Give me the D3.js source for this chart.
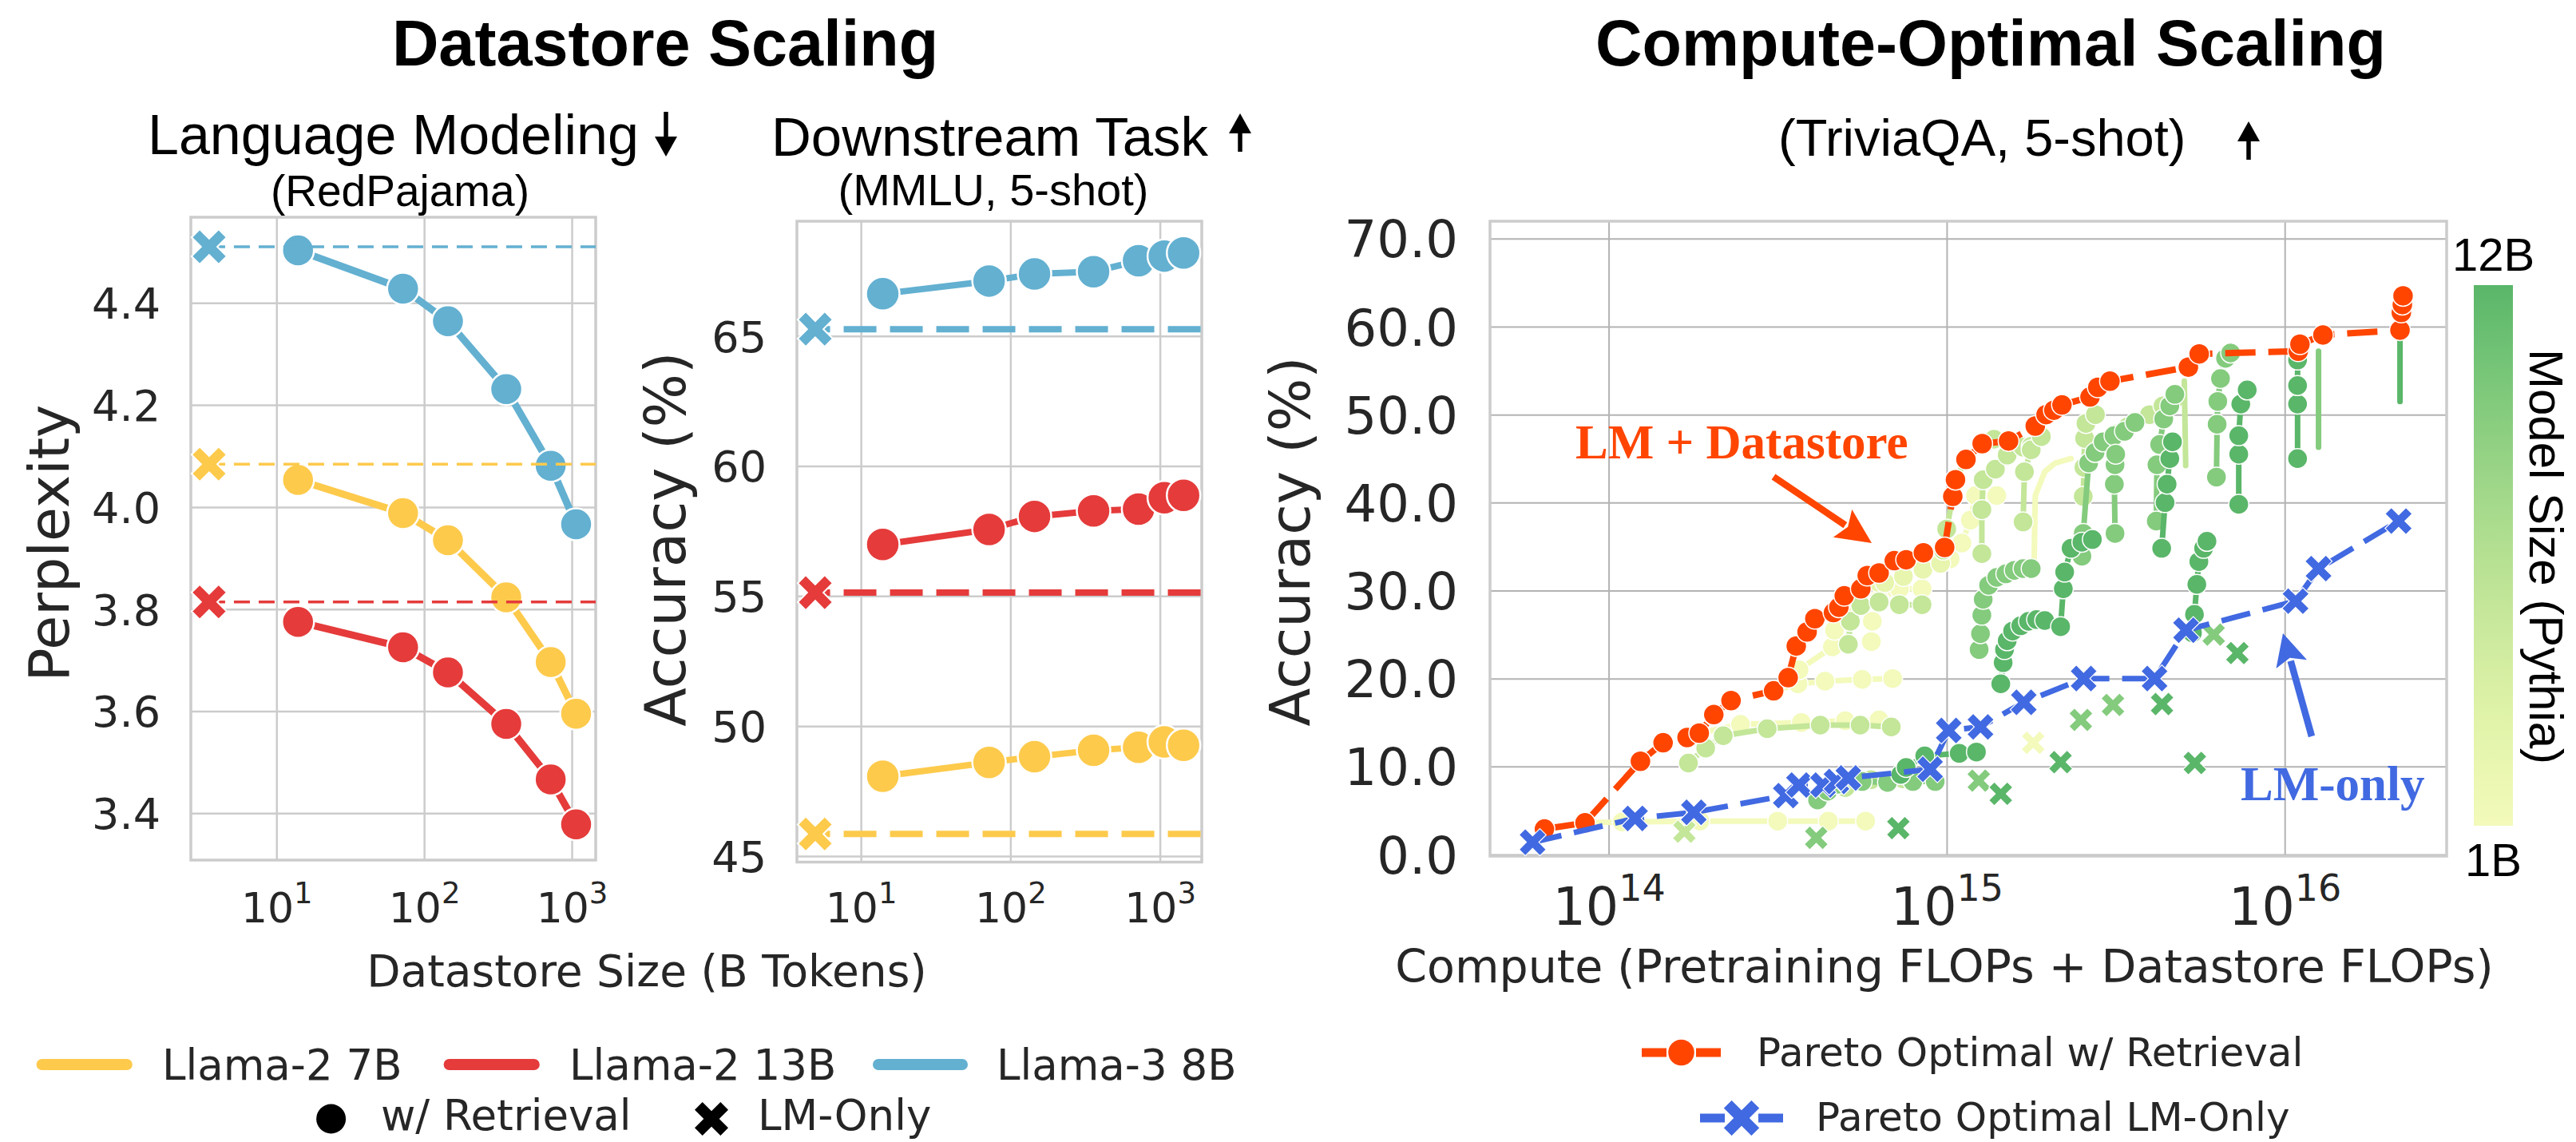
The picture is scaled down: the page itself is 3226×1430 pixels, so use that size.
<!DOCTYPE html>
<html>
<head>
<meta charset="utf-8">
<title>Datastore and compute-optimal scaling</title>
<script src="https://cdn.jsdelivr.net/npm/d3@7/dist/d3.min.js"></script>
<style>
  html, body { margin: 0; padding: 0; background: #ffffff; }
  svg { display: block; }
</style>
</head>
<body>
<svg id="fig" width="3226" height="1430" xmlns="http://www.w3.org/2000/svg"></svg>
<script>
// ---------------- data ----------------
// Language modeling (RedPajama perplexity) vs datastore size, billions of tokens
const lmDatastoreTokens = [14, 72, 145, 360, 720, 1070];
const pplLlama2_7B  = [4.053, 3.988, 3.935, 3.823, 3.696, 3.595];
const pplLlama2_13B = [3.775, 3.725, 3.676, 3.575, 3.466, 3.378];
const pplLlama3_8B  = [4.503, 4.428, 4.364, 4.231, 4.081, 3.966];
const pplLMOnly     = [4.084, 3.814, 4.510];   // 7B, 13B, Llama-3 8B without retrieval
const lmOnlyTokensLM = 3.5;                    // where the LM-only markers sit on the x axis

// Downstream (MMLU 5-shot accuracy, %) vs datastore size
const mmluDatastoreTokens = [14, 72, 145, 360, 720, 1070, 1440];
const mmluLlama2_7B  = [48.07, 48.60, 48.82, 49.07, 49.18, 49.39, 49.26];
const mmluLlama2_13B = [56.98, 57.56, 58.06, 58.27, 58.34, 58.78, 58.87];
const mmluLlama3_8B  = [66.62, 67.11, 67.38, 67.47, 67.89, 68.07, 68.19];
const mmluLMOnly     = [45.85, 55.13, 65.26];
const lmOnlyTokensMMLU = 4.95;

const modelNames  = ["Llama-2 7B", "Llama-2 13B", "Llama-3 8B"];
const modelColors = ["#fdca4c", "#e53b3b", "#63b0d1"];

const pplTicks   = [3.4, 3.6, 3.8, 4.0, 4.2, 4.4];
const mmluTicks  = [45, 50, 55, 60, 65];
const tokenTicks = [10, 100, 1000];
const accTicks   = [0, 10, 20, 30, 40, 50, 60, 70];
const flopTicks  = [1e14, 1e15, 1e16];

// Compute-optimal scaling (TriviaQA 5-shot): points are [log10 FLOPs, accuracy %]
// Pythia runs with retrieval: [model size (B), points ordered by datastore size]
const retrievalRuns = [
  [1,   [[13.81,2.9],[13.93,3.6],[14.04,3.7],[14.27,3.8],[14.50,3.8],[14.65,3.8],[14.76,3.8]]],
  [1,   [[14.23,13.3],[14.27,13.8],[14.39,14.8],[14.57,15.0],[14.70,15.2],[14.80,15.3]]],
  [1,   [[14.49,18.6],[14.56,19.4],[14.64,19.7],[14.75,19.9],[14.84,20.0]]],
  [1,   [[14.563,21.0],[14.662,23.6],[14.668,25.5],[14.69,27.8],[14.73,29.4]]],
  [1,   [[14.777,24.2],[14.78,26.5],[14.80,29.0],[14.86,30.2],[14.927,30.2]]],
  [1.4, [[14.80,30.9],[14.817,30.9],[14.872,31.6],[14.93,32.4],[14.982,33.1]]],
  [1,   [[14.982,33.1],[15.01,33.6],[15.045,35.4],[15.07,38.0],[15.085,40.8],[15.148,40.8]]],
  [2.8, [[14.236,10.4],[14.287,12.1],[14.339,13.5],[14.469,14.3],[14.626,14.7],[14.744,14.7],[14.836,14.5]]],
  [2.8, [[14.709,23.9],[14.715,26.5],[14.746,28.3],[14.80,28.7],[14.86,28.4],[14.927,28.4]]],
  [2.8, [[14.70,7.6],[14.776,8.5],[14.829,8.3],[14.87,8.6]]],
  [2.8, [[14.99,34.6],[15.0,37.0],[15.018,40.7],[15.026,42.6],[15.057,44.9],[15.105,46.7],[15.14,47.2],[15.183,47.0]]],
  [2.8, [[15.104,34.2],[15.104,39.2],[15.108,42.6],[15.144,43.8],[15.179,45.4],[15.226,46.3],[15.25,46.4]]],
  [2.8, [[15.226,37.8],[15.23,43.5],[15.25,46.0],[15.28,47.5]]],
  [2.8, [[15.404,40.7],[15.406,44.0],[15.408,47.3],[15.412,49.0],[15.44,50.0]]],
  [2.8, [[15.46,46.5],[15.50,47.8],[15.535,48.6],[15.561,49.2],[15.60,50.0],[15.64,51.0],[15.672,51.7]]],
  [6.9, [[14.618,6.2],[14.648,7.2],[14.678,8.0],[14.75,8.3],[14.825,8.2],[14.90,8.3],[14.966,8.3]]],
  [6.9, [[15.096,23.3],[15.10,25.1],[15.104,27.2],[15.108,29.0],[15.124,30.6],[15.148,31.5],[15.175,31.9],[15.20,32.3],[15.226,32.5],[15.25,32.5]]],
  [6.9, [[15.40,33.9],[15.404,36.5],[15.42,44.5],[15.439,45.7],[15.463,46.9],[15.495,47.6],[15.526,48.1],[15.557,49.1]]],
  [6.9, [[15.498,36.5],[15.496,42.1],[15.498,44.3],[15.50,45.5]]],
  [6.9, [[15.62,37.9],[15.622,44.3],[15.63,46.6],[15.642,49.5],[15.66,51.0],[15.675,52.3]]],
  [6.9, [[15.798,42.9],[15.80,48.9],[15.802,51.5],[15.81,54.1],[15.825,56.4],[15.84,57.0]]],
  [12,  [[14.864,9.1],[14.88,9.9],[14.935,11.2],[15.037,11.5],[15.088,11.65]]],
  [12,  [[15.16,19.4],[15.167,21.8],[15.171,23.3],[15.179,24.3],[15.195,25.4],[15.219,26.0],[15.242,26.5],[15.266,26.7],[15.29,26.6],[15.337,25.9],[15.345,30.2],[15.349,32.1],[15.368,34.8],[15.40,35.5],[15.431,35.8]]],
  [12,  [[15.636,34.8],[15.646,40.0],[15.652,42.1],[15.66,45.0],[15.668,46.9]]],
  [12,  [[15.727,25.2],[15.733,27.3],[15.74,30.7],[15.746,33.3],[15.76,34.8],[15.77,35.6]]],
  [12,  [[15.864,39.8],[15.864,45.5],[15.864,47.6],[15.87,51.2],[15.889,52.8]]],
  [12,  [[16.038,45.0],[16.038,51.2],[16.038,53.3],[16.038,56.2],[16.045,58.0]]]
];
// runs whose markers are hidden under other points: only their connecting line shows
const retrievalTraces = [
  [1,   [[15.258,31.8],[15.262,40.8],[15.29,43.5],[15.321,44.5],[15.368,45.0]]],
  [2.8, [[15.707,44.2],[15.703,53.8]]],
  [6.9, [[16.10,46.3],[16.10,57.2]]],
  [12,  [[16.341,51.5],[16.341,59.6]]]
];
// LM-only checkpoints: [model size (B), log10 FLOPs, accuracy %]
const lmOnlyRuns = [
  [2.8,14.224,2.6],[6.9,14.614,1.9],[12,14.857,3.0],[6.9,15.095,8.4],[12,15.16,6.9],
  [1,15.256,12.7],[12,15.337,10.5],[6.9,15.397,15.3],[6.9,15.492,17.0],[12,15.637,17.1],
  [12,15.734,10.4],[6.9,15.79,25.0],[12,15.86,22.9]
];
const paretoRetrieval = [
  [13.81,2.9],[13.93,3.6],[14.094,10.6],[14.161,12.7],[14.232,13.3],[14.268,13.8],[14.311,15.9],
  [14.362,17.5],[14.488,18.6],[14.531,20.1],[14.555,23.7],[14.587,25.3],[14.61,26.8],[14.665,27.5],
  [14.681,28.1],[14.697,29.4],[14.746,30.2],[14.765,31.7],[14.80,32.0],[14.845,33.4],[14.88,33.5],
  [14.931,34.3],[14.994,34.9],[15.018,40.7],[15.026,42.6],[15.057,44.9],[15.105,46.7],[15.183,47.0],
  [15.262,48.7],[15.294,50.0],[15.317,50.5],[15.341,51.1],[15.424,52.0],[15.447,53.1],[15.483,53.8],
  [15.715,55.4],[15.747,56.9],[16.04,57.2],[16.045,58.0],[16.113,59.05],[16.341,59.6],[16.345,61.6],
  [16.348,62.5],[16.35,63.5]
];
const paretoLMOnly = [
  [13.775,1.4],[14.078,4.1],[14.252,4.8],[14.524,6.7],[14.563,7.9],[14.634,7.9],[14.674,8.3],
  [14.709,8.7],[14.951,9.7],[15.006,14.1],[15.10,14.5],[15.228,17.3],[15.405,20.0],[15.615,20.0],
  [15.708,25.5],[16.032,28.8],[16.10,32.5],[16.337,37.9]
];
const colorbarLabels = ["12B", "1B"];

// ---------------- setup ----------------
const svg = d3.select("#fig");
const SANS = "'Liberation Sans', Arial, Helvetica, sans-serif";
const DEJAVU = "'DejaVu Sans', sans-serif";
const SERIF = "'Liberation Serif', 'Times New Roman', serif";
const INK = "#262626";
const ORANGE = "#ff4500";
const BLUE = "#4169e1";

const boxL = {x0: 239, x1: 746, y0: 272, y1: 1077};
const boxM = {x0: 998, x1: 1505, y0: 277, y1: 1079.5};
const boxR = {x0: 1866, x1: 3064, y0: 277, y1: 1072};

const xL = d3.scaleLog().domain([10 ** 0.42, 10 ** 3.162]).range([boxL.x0, boxL.x1]);
const yL = d3.scaleLinear().domain([3.308, 4.568]).range([boxL.y1, boxL.y0]);
const xM = d3.scaleLog().domain([10 ** 0.572, 10 ** 3.28]).range([boxM.x0, boxM.x1]);
const yM = d3.scaleLinear().domain([44.77, 69.41]).range([boxM.y1, boxM.y0]);
const xR = d3.scaleLog().domain([10 ** 13.649, 10 ** 16.479]).range([boxR.x0, boxR.x1]);
const yR = d3.scaleLinear().domain([-0.18, 71.98]).range([boxR.y1, boxR.y0]);

// Pythia model size -> colour (YlGn slice, log-spaced between 1B and 12B)
const sizeColor = s => d3.interpolateYlGn(0.13 + 0.44 * Math.log(s) / Math.log(12));

// filled "X" marker centred on the origin, `size` = bounding width
function xMarkerPath(size) {
  const h = size / 2;
  const s = h * Math.SQRT2 / 1.3, w = 0.3 * s;
  const pts = [[-w,-s],[w,-s],[w,-w],[s,-w],[s,w],[w,w],[w,s],[-w,s],[-w,w],[-s,w],[-s,-w],[-w,-w]]
    .map(([x, y]) => [(x - y) / Math.SQRT2, (x + y) / Math.SQRT2]);
  return "M" + pts.map(p => p[0].toFixed(2) + "," + p[1].toFixed(2)).join("L") + "Z";
}

function drawAxes(box, x, y, o) {
  const g = svg.append("g");
  const ya = g.append("g").attr("transform", `translate(${box.x0},0)`)
    .call(d3.axisLeft(y).tickValues(o.yTicks).tickFormat(o.yFmt)
      .tickSize(-(box.x1 - box.x0)).tickPadding(o.yPad));
  ya.select(".domain").remove();
  ya.selectAll(".tick line").attr("stroke", o.grid).attr("stroke-width", o.gridW);
  ya.selectAll(".tick text").attr("font-family", DEJAVU).attr("font-size", o.yFont)
    .attr("fill", INK).attr("dy", "0.36em");

  const xa = g.append("g").attr("transform", `translate(0,${box.y1})`)
    .call(d3.axisBottom(x).tickValues(o.xTicks).tickFormat(() => "")
      .tickSize(-(box.y1 - box.y0)));
  xa.select(".domain").remove();
  xa.selectAll(".tick line").attr("stroke", o.grid).attr("stroke-width", o.gridW);
  xa.selectAll(".tick text").attr("font-family", DEJAVU).attr("fill", INK)
    .attr("y", o.xBase).attr("dy", 0)
    .each(function (d) {
      const t = d3.select(this);
      t.append("tspan").attr("font-size", o.xFont).text("10");
      t.append("tspan").attr("font-size", o.xSup).attr("dy", -o.xRaise)
        .text(Math.round(Math.log10(d)));
    });

  g.append("rect").attr("x", box.x0).attr("y", box.y0)
    .attr("width", box.x1 - box.x0).attr("height", box.y1 - box.y0)
    .attr("fill", "none").attr("stroke", "#cccccc").attr("stroke-width", 3.5);
  return g;
}

// ---------------- left: language modeling ----------------
drawAxes(boxL, xL, yL, {yTicks: pplTicks, yFmt: d3.format(".1f"), yPad: 38, yFont: 54,
  xTicks: tokenTicks, xBase: 78, xFont: 52, xSup: 37, xRaise: 24, grid: "#cccccc", gridW: 2.5});

const gLeft = svg.append("g");
[pplLlama2_7B, pplLlama2_13B, pplLlama3_8B].forEach((vals, i) => {
  const pts = vals.map((v, j) => [lmDatastoreTokens[j], v]);
  gLeft.append("path").datum(pts)
    .attr("d", d3.line().x(d => xL(d[0])).y(d => yL(d[1])))
    .attr("fill", "none").attr("stroke", modelColors[i]).attr("stroke-width", 9)
    .attr("stroke-linejoin", "round");
  gLeft.selectAll(null).data(pts).join("circle")
    .attr("cx", d => xL(d[0])).attr("cy", d => yL(d[1])).attr("r", 20)
    .attr("fill", modelColors[i]).attr("stroke", "#fff").attr("stroke-width", 2.5);
});
pplLMOnly.forEach((v, i) => {
  gLeft.append("line").attr("x1", xL(lmOnlyTokensLM)).attr("x2", boxL.x1)
    .attr("y1", yL(v)).attr("y2", yL(v))
    .attr("stroke", modelColors[i]).attr("stroke-width", 3.5).attr("stroke-dasharray", "20,11");
  gLeft.append("path").attr("d", xMarkerPath(44))
    .attr("transform", `translate(${xL(lmOnlyTokensLM)},${yL(v)})`)
    .attr("fill", modelColors[i]).attr("stroke", "#fff").attr("stroke-width", 2);
});

// ---------------- middle: downstream task ----------------
drawAxes(boxM, xM, yM, {yTicks: mmluTicks, yFmt: d3.format("d"), yPad: 38, yFont: 54,
  xTicks: tokenTicks, xBase: 75.5, xFont: 52, xSup: 37, xRaise: 24, grid: "#cccccc", gridW: 2.5});

const gMid = svg.append("g");
mmluLMOnly.forEach((v, i) => {
  gMid.append("line").attr("x1", xM(lmOnlyTokensMMLU)).attr("x2", boxM.x1)
    .attr("y1", yM(v)).attr("y2", yM(v))
    .attr("stroke", modelColors[i]).attr("stroke-width", 8)
    .attr("stroke-dasharray", "41,17").attr("stroke-dashoffset", 22.4);
  gMid.append("path").attr("d", xMarkerPath(44))
    .attr("transform", `translate(${xM(lmOnlyTokensMMLU)},${yM(v)})`)
    .attr("fill", modelColors[i]).attr("stroke", "#fff").attr("stroke-width", 2);
});
[mmluLlama2_7B, mmluLlama2_13B, mmluLlama3_8B].forEach((vals, i) => {
  const pts = vals.map((v, j) => [mmluDatastoreTokens[j], v]);
  gMid.append("path").datum(pts)
    .attr("d", d3.line().x(d => xM(d[0])).y(d => yM(d[1])))
    .attr("fill", "none").attr("stroke", modelColors[i]).attr("stroke-width", 8)
    .attr("stroke-linejoin", "round");
  gMid.selectAll(null).data(pts).join("circle")
    .attr("cx", d => xM(d[0])).attr("cy", d => yM(d[1])).attr("r", 21)
    .attr("fill", modelColors[i]).attr("stroke", "#fff").attr("stroke-width", 2.5);
});

// ---------------- right: compute-optimal scaling ----------------
drawAxes(boxR, xR, yR, {yTicks: accTicks, yFmt: d3.format(".1f"), yPad: 40, yFont: 64,
  xTicks: flopTicks, xBase: 86, xFont: 65, xSup: 46, xRaise: 30, grid: "#b3b3b3", gridW: 2});

const gR = svg.append("g");
const px = d => xR(10 ** d[0]);
const py = d => yR(d[1]);
const runLine = d3.line().x(px).y(py);

const allRuns = retrievalRuns.map(r => ({size: r[0], pts: r[1], markers: true}))
  .concat(retrievalTraces.map(r => ({size: r[0], pts: r[1], markers: false})))
  .sort((a, b) => a.size - b.size);
allRuns.forEach(run => {
  const c = sizeColor(run.size);
  gR.append("path").datum(run.pts).attr("d", runLine)
    .attr("fill", "none").attr("stroke", c).attr("stroke-width", 7)
    .attr("stroke-linejoin", "round").attr("stroke-linecap", "round");
  if (run.markers) {
    gR.selectAll(null).data(run.pts).join("circle")
      .attr("cx", px).attr("cy", py).attr("r", 12.5)
      .attr("fill", c).attr("stroke", "#fff").attr("stroke-width", 1.5);
  }
});
gR.selectAll(null).data(lmOnlyRuns).join("path")
  .attr("d", xMarkerPath(30))
  .attr("transform", d => `translate(${xR(10 ** d[1])},${yR(d[2])})`)
  .attr("fill", d => sizeColor(d[0])).attr("stroke", "#fff").attr("stroke-width", 1.2);

// Pareto frontier with retrieval
gR.append("path").datum(paretoRetrieval).attr("d", runLine)
  .attr("fill", "none").attr("stroke", ORANGE).attr("stroke-width", 8)
  .attr("stroke-dasharray", "38,16");
gR.selectAll(null).data(paretoRetrieval).join("circle")
  .attr("cx", px).attr("cy", py).attr("r", 13)
  .attr("fill", ORANGE).attr("stroke", "#fff").attr("stroke-width", 1.5);

// Pareto frontier, LM only
gR.append("path").datum(paretoLMOnly).attr("d", runLine)
  .attr("fill", "none").attr("stroke", BLUE).attr("stroke-width", 7)
  .attr("stroke-dasharray", "37,16");
gR.selectAll(null).data(paretoLMOnly).join("path")
  .attr("d", xMarkerPath(34))
  .attr("transform", d => `translate(${px(d)},${py(d)})`)
  .attr("fill", BLUE).attr("stroke", "#fff").attr("stroke-width", 1.2);

// annotations
function arrow(g, x1, y1, x2, y2, color, width, headLen, headHalf) {
  const dx = x2 - x1, dy = y2 - y1, L = Math.hypot(dx, dy);
  const ux = dx / L, uy = dy / L;
  const bx = x2 - ux * headLen, by = y2 - uy * headLen;
  g.append("line").attr("x1", x1).attr("y1", y1).attr("x2", bx + ux * 4).attr("y2", by + uy * 4)
    .attr("stroke", color).attr("stroke-width", width);
  g.append("path")
    .attr("d", `M${x2},${y2}L${bx - uy * headHalf},${by + ux * headHalf}L${bx + ux * 8},${by + uy * 8}L${bx + uy * headHalf},${by - ux * headHalf}Z`)
    .attr("fill", color);
}
svg.append("text").attr("x", 1973).attr("y", 574)
  .attr("font-family", SERIF).attr("font-weight", "bold").attr("font-size", 61)
  .attr("fill", ORANGE).text("LM + Datastore");
arrow(svg, 2221, 597, 2344, 680, ORANGE, 8.5, 44, 21);
svg.append("text").attr("x", 2806).attr("y", 1002)
  .attr("font-family", SERIF).attr("font-weight", "bold").attr("font-size", 61)
  .attr("fill", BLUE).text("LM-only");
arrow(svg, 2895, 922, 2859, 793, BLUE, 8.5, 40, 20);

// colour bar
const defs = svg.append("defs");
const grad = defs.append("linearGradient").attr("id", "sizeGrad")
  .attr("x1", 0).attr("y1", 1).attr("x2", 0).attr("y2", 0);
d3.range(0, 1.0001, 0.1).forEach(t => {
  grad.append("stop").attr("offset", t).attr("stop-color", d3.interpolateYlGn(0.13 + 0.44 * t));
});
svg.append("rect").attr("x", 3098).attr("y", 357).attr("width", 49).attr("height", 677)
  .attr("fill", "url(#sizeGrad)");
svg.append("text").attr("x", 3122.5).attr("y", 339).attr("text-anchor", "middle")
  .attr("font-family", SANS).attr("font-size", 58).attr("fill", "#000").text(colorbarLabels[0]);
svg.append("text").attr("x", 3122.5).attr("y", 1097).attr("text-anchor", "middle")
  .attr("font-family", SANS).attr("font-size", 58).attr("fill", "#000").text(colorbarLabels[1]);
svg.append("text").attr("transform", "translate(3168,697) rotate(90)").attr("text-anchor", "middle")
  .attr("font-family", SANS).attr("font-size", 60).attr("fill", "#000").text("Model Size (Pythia)");

// ---------------- titles and axis labels ----------------
function label(x, y, txt, o) {
  return svg.append("text").attr("x", x).attr("y", y).text(txt)
    .attr("font-family", o.family).attr("font-size", o.size)
    .attr("font-weight", o.weight || "normal")
    .attr("text-anchor", o.anchor || "start").attr("fill", o.fill || "#000")
    .attr("transform", o.rotate ? `rotate(${o.rotate},${x},${y})` : null);
}
function vArrow(x, yTop, yBot, up) {
  const hl = 25, hw = 14, sw = 5.5;
  const g = svg.append("g").attr("fill", "#000");
  if (up) {
    g.append("rect").attr("x", x - sw / 2).attr("y", yTop + hl - 2).attr("width", sw).attr("height", yBot - yTop - hl + 2);
    g.append("path").attr("d", `M${x},${yTop}L${x + hw},${yTop + hl}L${x - hw},${yTop + hl}Z`);
  } else {
    g.append("rect").attr("x", x - sw / 2).attr("y", yTop).attr("width", sw).attr("height", yBot - yTop - hl + 2);
    g.append("path").attr("d", `M${x},${yBot}L${x + hw},${yBot - hl}L${x - hw},${yBot - hl}Z`);
  }
}

label(833, 82, "Datastore Scaling", {family: SANS, size: 81, weight: "bold", anchor: "middle"});
label(2493, 82, "Compute-Optimal Scaling", {family: SANS, size: 81, weight: "bold", anchor: "middle"});
label(185, 193, "Language Modeling", {family: SANS, size: 70});
vArrow(834, 140, 196, false);
label(501, 258, "(RedPajama)", {family: SANS, size: 55, anchor: "middle"});
label(966, 195, "Downstream Task", {family: SANS, size: 69});
vArrow(1553, 142, 190, true);
label(1244, 257, "(MMLU, 5-shot)", {family: SANS, size: 56, anchor: "middle"});
label(2227, 195, "(TriviaQA, 5-shot)", {family: SANS, size: 65});
vArrow(2816, 152, 200, true);

label(86, 680, "Perplexity", {family: DEJAVU, size: 70, anchor: "middle", fill: INK, rotate: -90});
label(858, 675, "Accuracy (%)", {family: DEJAVU, size: 71, anchor: "middle", fill: INK, rotate: -90});
label(1640, 678, "Accuracy (%)", {family: DEJAVU, size: 70, anchor: "middle", fill: INK, rotate: -90});
label(810, 1235, "Datastore Size (B Tokens)", {family: DEJAVU, size: 55, anchor: "middle", fill: INK});
label(2435, 1230, "Compute (Pretraining FLOPs + Datastore FLOPs)", {family: DEJAVU, size: 57, anchor: "middle", fill: INK});

// ---------------- legends ----------------
const legL = svg.append("g");
const handleX = [[45.6, 165.8, 203], [555.6, 675.8, 713], [1093, 1212, 1248]];
modelNames.forEach((name, i) => {
  const [a, b, t] = handleX[i];
  legL.append("line").attr("x1", a + 7).attr("x2", b - 7).attr("y1", 1333).attr("y2", 1333)
    .attr("stroke", modelColors[i]).attr("stroke-width", 14).attr("stroke-linecap", "round");
  legL.append("text").attr("x", t).attr("y", 1352).attr("font-family", DEJAVU)
    .attr("font-size", 53).attr("fill", INK).text(name);
});
legL.append("circle").attr("cx", 414.6).attr("cy", 1401).attr("r", 18.5).attr("fill", "#000");
legL.append("text").attr("x", 477).attr("y", 1415).attr("font-family", DEJAVU)
  .attr("font-size", 53).attr("fill", INK).text("w/ Retrieval");
legL.append("path").attr("d", xMarkerPath(42)).attr("transform", "translate(891,1401)").attr("fill", "#000");
legL.append("text").attr("x", 949).attr("y", 1415).attr("font-family", DEJAVU)
  .attr("font-size", 53).attr("fill", INK).text("LM-Only");

const legR = svg.append("g");
[[2056, 2087], [2124, 2155]].forEach(([a, b]) => legR.append("line")
  .attr("x1", a).attr("x2", b).attr("y1", 1318).attr("y2", 1318)
  .attr("stroke", ORANGE).attr("stroke-width", 11));
legR.append("circle").attr("cx", 2105.5).attr("cy", 1318).attr("r", 17)
  .attr("fill", ORANGE).attr("stroke", "#fff").attr("stroke-width", 1.5);
legR.append("text").attr("x", 2200).attr("y", 1335).attr("font-family", DEJAVU)
  .attr("font-size", 50).attr("fill", INK).text("Pareto Optimal w/ Retrieval");
[[2129, 2160], [2202, 2233]].forEach(([a, b]) => legR.append("line")
  .attr("x1", a).attr("x2", b).attr("y1", 1400).attr("y2", 1400)
  .attr("stroke", BLUE).attr("stroke-width", 11));
legR.append("path").attr("d", xMarkerPath(46)).attr("transform", "translate(2181,1400)")
  .attr("fill", BLUE).attr("stroke", "#fff").attr("stroke-width", 1.2);
legR.append("text").attr("x", 2274).attr("y", 1416).attr("font-family", DEJAVU)
  .attr("font-size", 50).attr("fill", INK).text("Pareto Optimal LM-Only");
</script>
</body>
</html>
